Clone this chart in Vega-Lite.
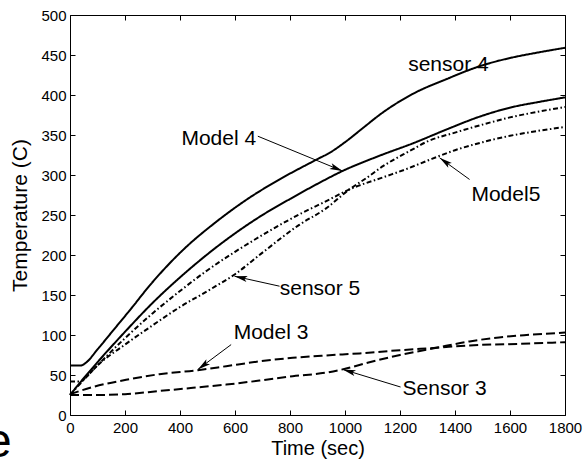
{
  "$schema": "https://vega.github.io/schema/vega-lite/v6.json",
  "width": 495,
  "height": 400,
  "autosize": {"type": "none"},
  "padding": {"left": 70, "top": 15, "right": 20, "bottom": 47},
  "background": "white",
  "config": {
    "view": {"stroke": null},
    "font": "Liberation Sans",
    "axis": {
      "domainColor": "black", "tickColor": "black", "labelColor": "black", "titleColor": "black",
      "grid": false, "labelFont": "Liberation Sans", "titleFont": "Liberation Sans",
      "labelFontSize": 15, "titleFontWeight": "normal", "tickWidth": 1, "domainWidth": 1,
      "labelOverlap": false, "labelFlush": false
    }
  },
  "datasets": {
    "series": [
      {"s": "Sensor 4", "t": 0, "v": 62}, {"s": "Sensor 4", "t": 40, "v": 62}, {"s": "Sensor 4", "t": 60, "v": 66},
      {"s": "Sensor 4", "t": 100, "v": 82}, {"s": "Sensor 4", "t": 160, "v": 107}, {"s": "Sensor 4", "t": 220, "v": 132},
      {"s": "Sensor 4", "t": 290, "v": 162}, {"s": "Sensor 4", "t": 410, "v": 206}, {"s": "Sensor 4", "t": 530, "v": 241},
      {"s": "Sensor 4", "t": 650, "v": 271}, {"s": "Sensor 4", "t": 775, "v": 297}, {"s": "Sensor 4", "t": 895, "v": 319},
      {"s": "Sensor 4", "t": 950, "v": 329}, {"s": "Sensor 4", "t": 1000, "v": 341}, {"s": "Sensor 4", "t": 1077, "v": 362},
      {"s": "Sensor 4", "t": 1125, "v": 375}, {"s": "Sensor 4", "t": 1250, "v": 402}, {"s": "Sensor 4", "t": 1370, "v": 420},
      {"s": "Sensor 4", "t": 1490, "v": 436}, {"s": "Sensor 4", "t": 1610, "v": 447}, {"s": "Sensor 4", "t": 1700, "v": 453},
      {"s": "Sensor 4", "t": 1800, "v": 459},

      {"s": "Model 4", "t": 0, "v": 25}, {"s": "Model 4", "t": 50, "v": 46}, {"s": "Model 4", "t": 100, "v": 66},
      {"s": "Model 4", "t": 200, "v": 104}, {"s": "Model 4", "t": 300, "v": 140}, {"s": "Model 4", "t": 400, "v": 172},
      {"s": "Model 4", "t": 500, "v": 201}, {"s": "Model 4", "t": 600, "v": 227}, {"s": "Model 4", "t": 700, "v": 250},
      {"s": "Model 4", "t": 800, "v": 270}, {"s": "Model 4", "t": 900, "v": 289}, {"s": "Model 4", "t": 991, "v": 305},
      {"s": "Model 4", "t": 1125, "v": 324}, {"s": "Model 4", "t": 1250, "v": 340}, {"s": "Model 4", "t": 1370, "v": 357},
      {"s": "Model 4", "t": 1490, "v": 373}, {"s": "Model 4", "t": 1610, "v": 385}, {"s": "Model 4", "t": 1700, "v": 391},
      {"s": "Model 4", "t": 1800, "v": 397},

      {"s": "Sensor 5", "t": 0, "v": 42}, {"s": "Sensor 5", "t": 40, "v": 42}, {"s": "Sensor 5", "t": 60, "v": 48},
      {"s": "Sensor 5", "t": 100, "v": 62}, {"s": "Sensor 5", "t": 200, "v": 88}, {"s": "Sensor 5", "t": 300, "v": 112},
      {"s": "Sensor 5", "t": 400, "v": 135}, {"s": "Sensor 5", "t": 500, "v": 155}, {"s": "Sensor 5", "t": 600, "v": 176},
      {"s": "Sensor 5", "t": 700, "v": 203}, {"s": "Sensor 5", "t": 835, "v": 238}, {"s": "Sensor 5", "t": 930, "v": 258},
      {"s": "Sensor 5", "t": 1016, "v": 282}, {"s": "Sensor 5", "t": 1077, "v": 296}, {"s": "Sensor 5", "t": 1138, "v": 311},
      {"s": "Sensor 5", "t": 1235, "v": 330}, {"s": "Sensor 5", "t": 1300, "v": 342}, {"s": "Sensor 5", "t": 1400, "v": 353},
      {"s": "Sensor 5", "t": 1500, "v": 363}, {"s": "Sensor 5", "t": 1600, "v": 372}, {"s": "Sensor 5", "t": 1700, "v": 379},
      {"s": "Sensor 5", "t": 1800, "v": 385},

      {"s": "Model 5", "t": 0, "v": 25}, {"s": "Model 5", "t": 50, "v": 44}, {"s": "Model 5", "t": 100, "v": 62},
      {"s": "Model 5", "t": 200, "v": 96}, {"s": "Model 5", "t": 300, "v": 127}, {"s": "Model 5", "t": 400, "v": 155},
      {"s": "Model 5", "t": 500, "v": 181}, {"s": "Model 5", "t": 600, "v": 204}, {"s": "Model 5", "t": 700, "v": 225},
      {"s": "Model 5", "t": 835, "v": 251}, {"s": "Model 5", "t": 930, "v": 267}, {"s": "Model 5", "t": 1016, "v": 282},
      {"s": "Model 5", "t": 1138, "v": 297}, {"s": "Model 5", "t": 1235, "v": 309}, {"s": "Model 5", "t": 1300, "v": 318},
      {"s": "Model 5", "t": 1400, "v": 331}, {"s": "Model 5", "t": 1500, "v": 341}, {"s": "Model 5", "t": 1600, "v": 349},
      {"s": "Model 5", "t": 1700, "v": 355}, {"s": "Model 5", "t": 1800, "v": 360},

      {"s": "Sensor 3", "t": 0, "v": 25}, {"s": "Sensor 3", "t": 100, "v": 25}, {"s": "Sensor 3", "t": 200, "v": 26},
      {"s": "Sensor 3", "t": 325, "v": 30}, {"s": "Sensor 3", "t": 447, "v": 34}, {"s": "Sensor 3", "t": 568, "v": 38},
      {"s": "Sensor 3", "t": 689, "v": 43}, {"s": "Sensor 3", "t": 810, "v": 48.5}, {"s": "Sensor 3", "t": 932, "v": 53},
      {"s": "Sensor 3", "t": 1004, "v": 58}, {"s": "Sensor 3", "t": 1089, "v": 66}, {"s": "Sensor 3", "t": 1200, "v": 75},
      {"s": "Sensor 3", "t": 1332, "v": 84}, {"s": "Sensor 3", "t": 1453, "v": 92}, {"s": "Sensor 3", "t": 1560, "v": 97},
      {"s": "Sensor 3", "t": 1660, "v": 100}, {"s": "Sensor 3", "t": 1800, "v": 103},

      {"s": "Model 3", "t": 0, "v": 26}, {"s": "Model 3", "t": 83, "v": 35}, {"s": "Model 3", "t": 204, "v": 44},
      {"s": "Model 3", "t": 325, "v": 51}, {"s": "Model 3", "t": 465, "v": 56}, {"s": "Model 3", "t": 568, "v": 61},
      {"s": "Model 3", "t": 689, "v": 67}, {"s": "Model 3", "t": 810, "v": 71.5}, {"s": "Model 3", "t": 932, "v": 74.5},
      {"s": "Model 3", "t": 1053, "v": 77}, {"s": "Model 3", "t": 1200, "v": 81}, {"s": "Model 3", "t": 1332, "v": 84},
      {"s": "Model 3", "t": 1453, "v": 87}, {"s": "Model 3", "t": 1635, "v": 89}, {"s": "Model 3", "t": 1800, "v": 91}
    ],
    "arrows": [
      {"name": "Model 4", "t": 683, "v": 348.5, "t2": 991, "v2": 305},
      {"name": "sensor 5", "t": 762, "v": 161, "t2": 598, "v2": 173.5},
      {"name": "Model 3", "t": 586, "v": 88, "t2": 465, "v2": 57},
      {"name": "Sensor 3", "t": 1202, "v": 35, "t2": 992, "v2": 57},
      {"name": "Model5", "t": 1453, "v": 294.4, "t2": 1344, "v2": 321.5}
    ],
    "labels": [
      {"text": "sensor 4", "t": 1376, "v": 430},
      {"text": "Model 4", "t": 541, "v": 338},
      {"text": "sensor 5", "t": 909, "v": 150.6},
      {"text": "Model 3", "t": 731, "v": 95.2},
      {"text": "Sensor 3", "t": 1362, "v": 24.4},
      {"text": "Model5", "t": 1585, "v": 267}
    ],
    "stray": [{"text": "e", "t": -261, "v": -52}]
  },
  "layer": [
    {
      "data": {"name": "series"},
      "mark": {"type": "line", "color": "black", "strokeWidth": 2, "interpolate": "monotone"},
      "encoding": {
        "x": {"field": "t", "type": "quantitative", "scale": {"domain": [0, 1800], "nice": false},
              "axis": {"orient": "bottom", "values": [0,200,400,600,800,1000,1200,1400,1600,1800], "format": "d", "tickSize": -5, "labelPadding": 10,
                       "title": "Time (sec)", "titleFontSize": 20, "titlePadding": 3}},
        "y": {"field": "v", "type": "quantitative", "scale": {"domain": [0, 500], "nice": false},
              "axis": {"orient": "left", "values": [0,50,100,150,200,250,300,350,400,450,500], "format": "d", "tickSize": -5, "labelPadding": 9,
                       "title": "Temperature (C)", "titleFontSize": 21, "titlePadding": 10}},
        "strokeDash": {"field": "s", "type": "nominal", "legend": null,
          "scale": {"domain": ["Sensor 4", "Model 4", "Sensor 5", "Model 5", "Sensor 3", "Model 3"],
                    "range": [[1, 0], [1, 0], [5, 2.5, 1.5, 2.5], [5, 2.5, 1.5, 2.5], [9, 4], [9, 4]]}}
      }
    },
    {
      "data": {"name": "arrows"},
      "mark": {"type": "rule", "color": "black", "strokeWidth": 1},
      "encoding": {
        "x": {"field": "t", "type": "quantitative",
              "axis": {"orient": "top", "values": [0,200,400,600,800,1000,1200,1400,1600,1800], "tickSize": -5, "labels": false, "title": null}},
        "y": {"field": "v", "type": "quantitative",
              "axis": {"orient": "right", "values": [0,50,100,150,200,250,300,350,400,450,500], "tickSize": -5, "labels": false, "title": null}},
        "x2": {"field": "t2"},
        "y2": {"field": "v2"}
      }
    },
    {
      "data": {"name": "arrows"},
      "transform": [
        {"calculate": "atan2((datum.t2 - datum.t) * 0.275, (datum.v2 - datum.v) * 0.8) * 180 / PI", "as": "ang"}
      ],
      "mark": {"type": "point", "shape": "M0,0L0.38,1.6L0,1.25L-0.38,1.6Z", "filled": true, "color": "black", "opacity": 1, "size": 260, "strokeWidth": 0},
      "encoding": {
        "x": {"field": "t2", "type": "quantitative", "axis": null},
        "y": {"field": "v2", "type": "quantitative", "axis": null},
        "angle": {"field": "ang", "type": "quantitative", "scale": null}
      }
    },
    {
      "data": {"name": "labels"},
      "mark": {"type": "text", "font": "Liberation Sans", "fontSize": 21, "align": "center", "baseline": "alphabetic", "color": "black"},
      "encoding": {
        "x": {"field": "t", "type": "quantitative", "axis": null},
        "y": {"field": "v", "type": "quantitative", "axis": null},
        "text": {"field": "text"}
      }
    },
    {
      "data": {"name": "stray"},
      "mark": {"type": "text", "font": "Liberation Sans", "fontSize": 48, "align": "center", "baseline": "alphabetic", "color": "black"},
      "encoding": {
        "x": {"field": "t", "type": "quantitative", "axis": null},
        "y": {"field": "v", "type": "quantitative", "axis": null},
        "text": {"field": "text"}
      }
    }
  ]
}
